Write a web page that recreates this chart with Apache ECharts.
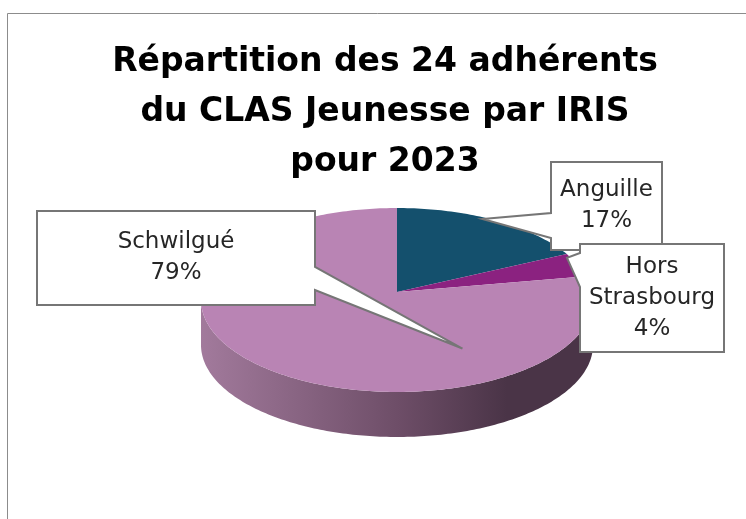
<!DOCTYPE html>
<html>
<head>
<meta charset="utf-8">
<script src="https://cdn.jsdelivr.net/npm/echarts@6/dist/echarts.min.js"></script>
<style>
  html, body { margin: 0; padding: 0; background: #fff; }
  #main { width: 746px; height: 519px; }
</style>
</head>
<body>
<div id="main"></div>
<script>
// données
const categories = ['Anguille', 'Hors Strasbourg', 'Schwilgué'];
const labelLines = [['Anguille'], ['Hors', 'Strasbourg'], ['Schwilgué']];
const values = [4, 1, 19];
const sliceColors = ['#14506d', '#8b2280', '#b984b4'];

// géométrie du camembert 3D
const cx = 397, cy = 300, rx = 196, ry = 92, depth = 45, apexLift = 8;
// boîtes des étiquettes (x0, y0, x1, y1), encoche sur un côté, pointe dans la part
const callouts = [
  {box: [551, 162, 662, 250], side: 'left', notch: [213, 238], tipFrac: 0.44, tipR: 0.98},
  {box: [580, 244, 724, 352], side: 'left', notch: [253, 287], tipFrac: 0.15, tipR: 0.98},
  {box: [37, 211, 315, 305], side: 'right', notch: [267, 290], tipFrac: 0.26, tipR: 0.65}
];

const total = values.reduce((a, b) => a + b, 0);
const starts = [];
let acc = 0;
values.forEach(v => { starts.push(acc / total * 360); acc += v; });

function pt(deg, r, dy) {
  const a = deg * Math.PI / 180;
  return [cx + rx * r * Math.sin(a), cy - ry * r * Math.cos(a) + (dy || 0)];
}
function arc(a0, a1, dy) {
  const pts = [];
  const n = Math.max(2, Math.ceil(Math.abs(a1 - a0)));
  for (let i = 0; i <= n; i++) pts.push(pt(a0 + (a1 - a0) * i / n, 1, dy));
  return pts;
}

const sideGradient = new echarts.graphic.LinearGradient(0, 0, 1, 0, [
  {offset: 0, color: '#a27a9c'},
  {offset: 0.5, color: '#6e4e68'},
  {offset: 0.78, color: '#4a3447'},
  {offset: 1, color: '#4a3447'}
]);

function renderSlice(params, api) {
  const i = params.dataIndex;
  const a0 = starts[i];
  const a1 = a0 + api.value(0) / total * 360;
  const children = [];
  // face latérale visible (entre 90° et 270°)
  const s0 = Math.max(a0, 90), s1 = Math.min(a1, 270);
  if (s1 > s0) {
    const top = arc(s0, s1, 0);
    const bottom = arc(s1, s0, depth);
    children.push({
      type: 'polygon',
      shape: {points: top.concat(bottom)},
      style: {fill: sideGradient}
    });
  }
  const apex = [cx, cy - apexLift];
  children.push({
    type: 'polygon',
    shape: {points: [apex].concat(arc(a0, a1, 0))},
    style: {fill: sliceColors[i]}
  });
  return {type: 'group', children: children};
}

function renderLabel(params, api) {
  const i = params.dataIndex;
  const c = callouts[i];
  const a0 = starts[i];
  const span = api.value(0) / total * 360;
  const tip = pt(a0 + span * c.tipFrac, c.tipR, 0);
  tip[1] -= apexLift * (1 - c.tipR);
  const [x0, y0, x1, y1] = c.box;
  let points;
  if (c.side === 'left') {
    points = [[x0, y0], [x1, y0], [x1, y1], [x0, y1], [x0, c.notch[1]], tip, [x0, c.notch[0]]];
  } else {
    points = [[x0, y0], [x1, y0], [x1, c.notch[0]], tip, [x1, c.notch[1]], [x1, y1], [x0, y1]];
  }
  const pct = Math.round(api.value(0) / total * 100) + '%';
  return {
    type: 'group',
    children: [
      {
        type: 'polygon',
        shape: {points: points},
        style: {fill: '#fff', stroke: '#767676', lineWidth: 2, lineJoin: 'miter'}
      },
      {
        type: 'text',
        x: (x0 + x1) / 2,
        y: (y0 + y1) / 2,
        style: {
          text: labelLines[i].concat([pct]).join('\n'),
          fill: '#262626',
          font: '23px "DejaVu Sans"',
          lineHeight: 31,
          align: 'center',
          verticalAlign: 'middle'
        }
      }
    ]
  };
}

const chart = echarts.init(document.getElementById('main'));
const option = {
  backgroundColor: '#fff',
  animation: false,
  title: {
    text: 'Répartition des 24 adhérents\ndu CLAS Jeunesse par IRIS\npour 2023',
    left: 380,
    top: 32,
    textAlign: 'center',
    textStyle: {
      fontFamily: 'DejaVu Sans',
      fontWeight: 'bold',
      fontSize: 33,
      lineHeight: 50,
      color: '#000'
    }
  },
  graphic: [{
    type: 'rect',
    shape: {x: 7.5, y: 13.5, width: 800, height: 600},
    style: {fill: 'none', stroke: '#8c8c8c', lineWidth: 1},
    silent: true
  }],
  series: [
    {
      type: 'custom',
      coordinateSystem: 'none',
      renderItem: renderSlice,
      data: values.map((v, i) => ({name: categories[i], value: [v]})),
      z: 2
    },
    {
      type: 'custom',
      coordinateSystem: 'none',
      renderItem: renderLabel,
      data: values.map((v, i) => ({name: categories[i], value: [v]})),
      z: 3
    }
  ]
};
chart.setOption(option);
</script>
</body>
</html>
